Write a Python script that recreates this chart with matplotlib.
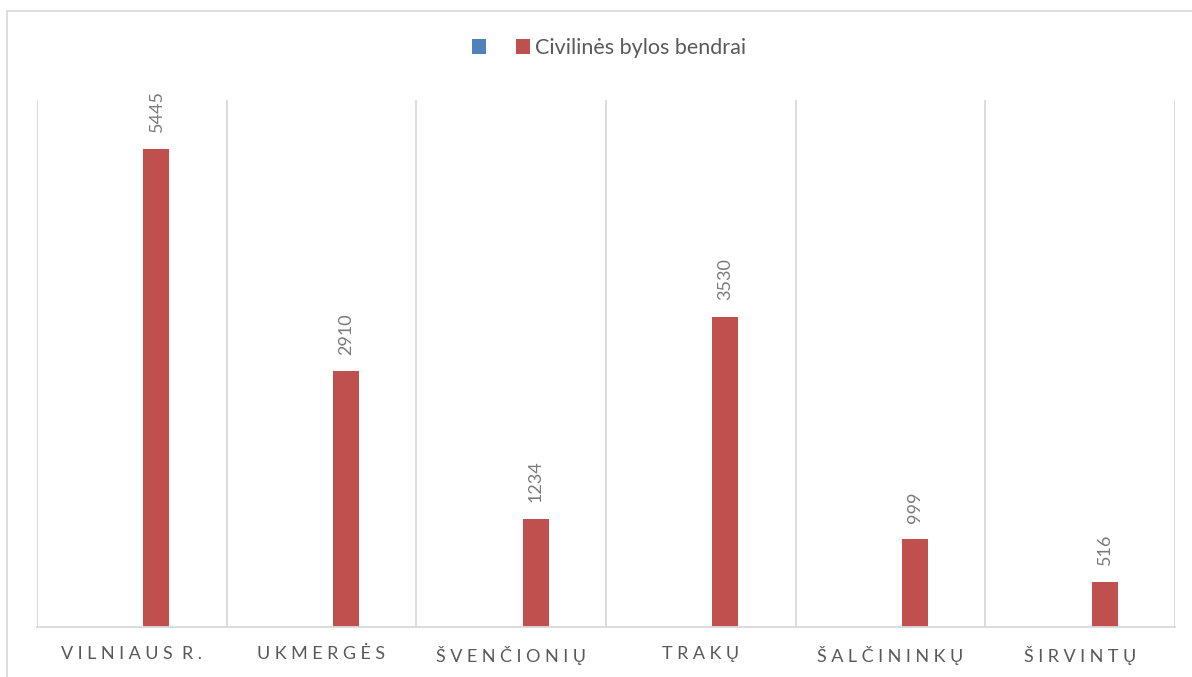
import numpy as np
import matplotlib.pyplot as plt
from matplotlib.patches import Rectangle

# data
categories = ["VILNIAUS R.", "UKMERGĖS", "ŠVENČIONIŲ", "TRAKŲ", "ŠALČININKŲ", "ŠIRVINTŲ"]
series_names = ["", "Civilinės bylos bendrai"]
blank_values = [np.nan] * 6          # first series has no values in the source
civil_cases = [5445, 2910, 1234, 3530, 999, 516]

plt.rcParams["font.family"] = ["Lato", "DejaVu Sans"]

blue = "#4F81BD"
red = "#C0504D"
grid_c = "#d9d9d9"

fig = plt.figure(figsize=(11.92, 6.77), dpi=100)
ax = fig.add_axes([37 / 1192, 50 / 677, (1175 - 37) / 1192, (627 - 100) / 677])

x = np.arange(len(categories))
w = 0.137
off = 0.13
b1 = ax.bar(x - off, blank_values, w, color=blue, label=series_names[0])
b2 = ax.bar(x + off, civil_cases, w, color=red, label=series_names[1])

for xi, v in zip(x, civil_cases):
    ax.annotate(str(v), (xi + off, v), xytext=(0, 12), textcoords="offset points",
                rotation=90, ha="center", va="bottom", fontsize=13, color="#7a7a7a")

ax.set_xlim(-0.5, len(categories) - 0.5)
ax.set_ylim(0, 6000)
ax.set_yticks([])

# vertical separators between categories
for gx in np.arange(-0.5, len(categories), 1.0):
    ax.axvline(gx, color=grid_c, lw=1.3, zorder=0)

for s in ["top", "left", "right"]:
    ax.spines[s].set_visible(False)
ax.spines["bottom"].set_color(grid_c)
ax.spines["bottom"].set_linewidth(1.3)

# letter-spaced category labels
ts = "\u2009\u2009"
spaced = [ts + "  ".join(ts.join(word) for word in c.split(" ")) for c in categories]
spaced = [s.strip() for s in spaced]
ax.set_xticks(x)
ax.set_xticklabels(spaced, fontsize=13, color="#595959")
ax.tick_params(axis="x", length=0, pad=14)

fig.legend(handles=[b1, b2], labels=series_names, ncol=2, frameon=False,
           loc="center", bbox_to_anchor=(0.511, 0.929), fontsize=15.5,
           handlelength=0.65, handleheight=0.65, handletextpad=0.23,
           columnspacing=1.16, labelcolor="#595959")

# outer chart border (cut off at the right and bottom in the source)
fig.patches.append(Rectangle((7 / 1192, -0.1), 1.2, 1.1 - 11 / 677,
                             transform=fig.transFigure, fill=False,
                             edgecolor=grid_c, lw=1.2))

fig.savefig("out.png", dpi=100)
